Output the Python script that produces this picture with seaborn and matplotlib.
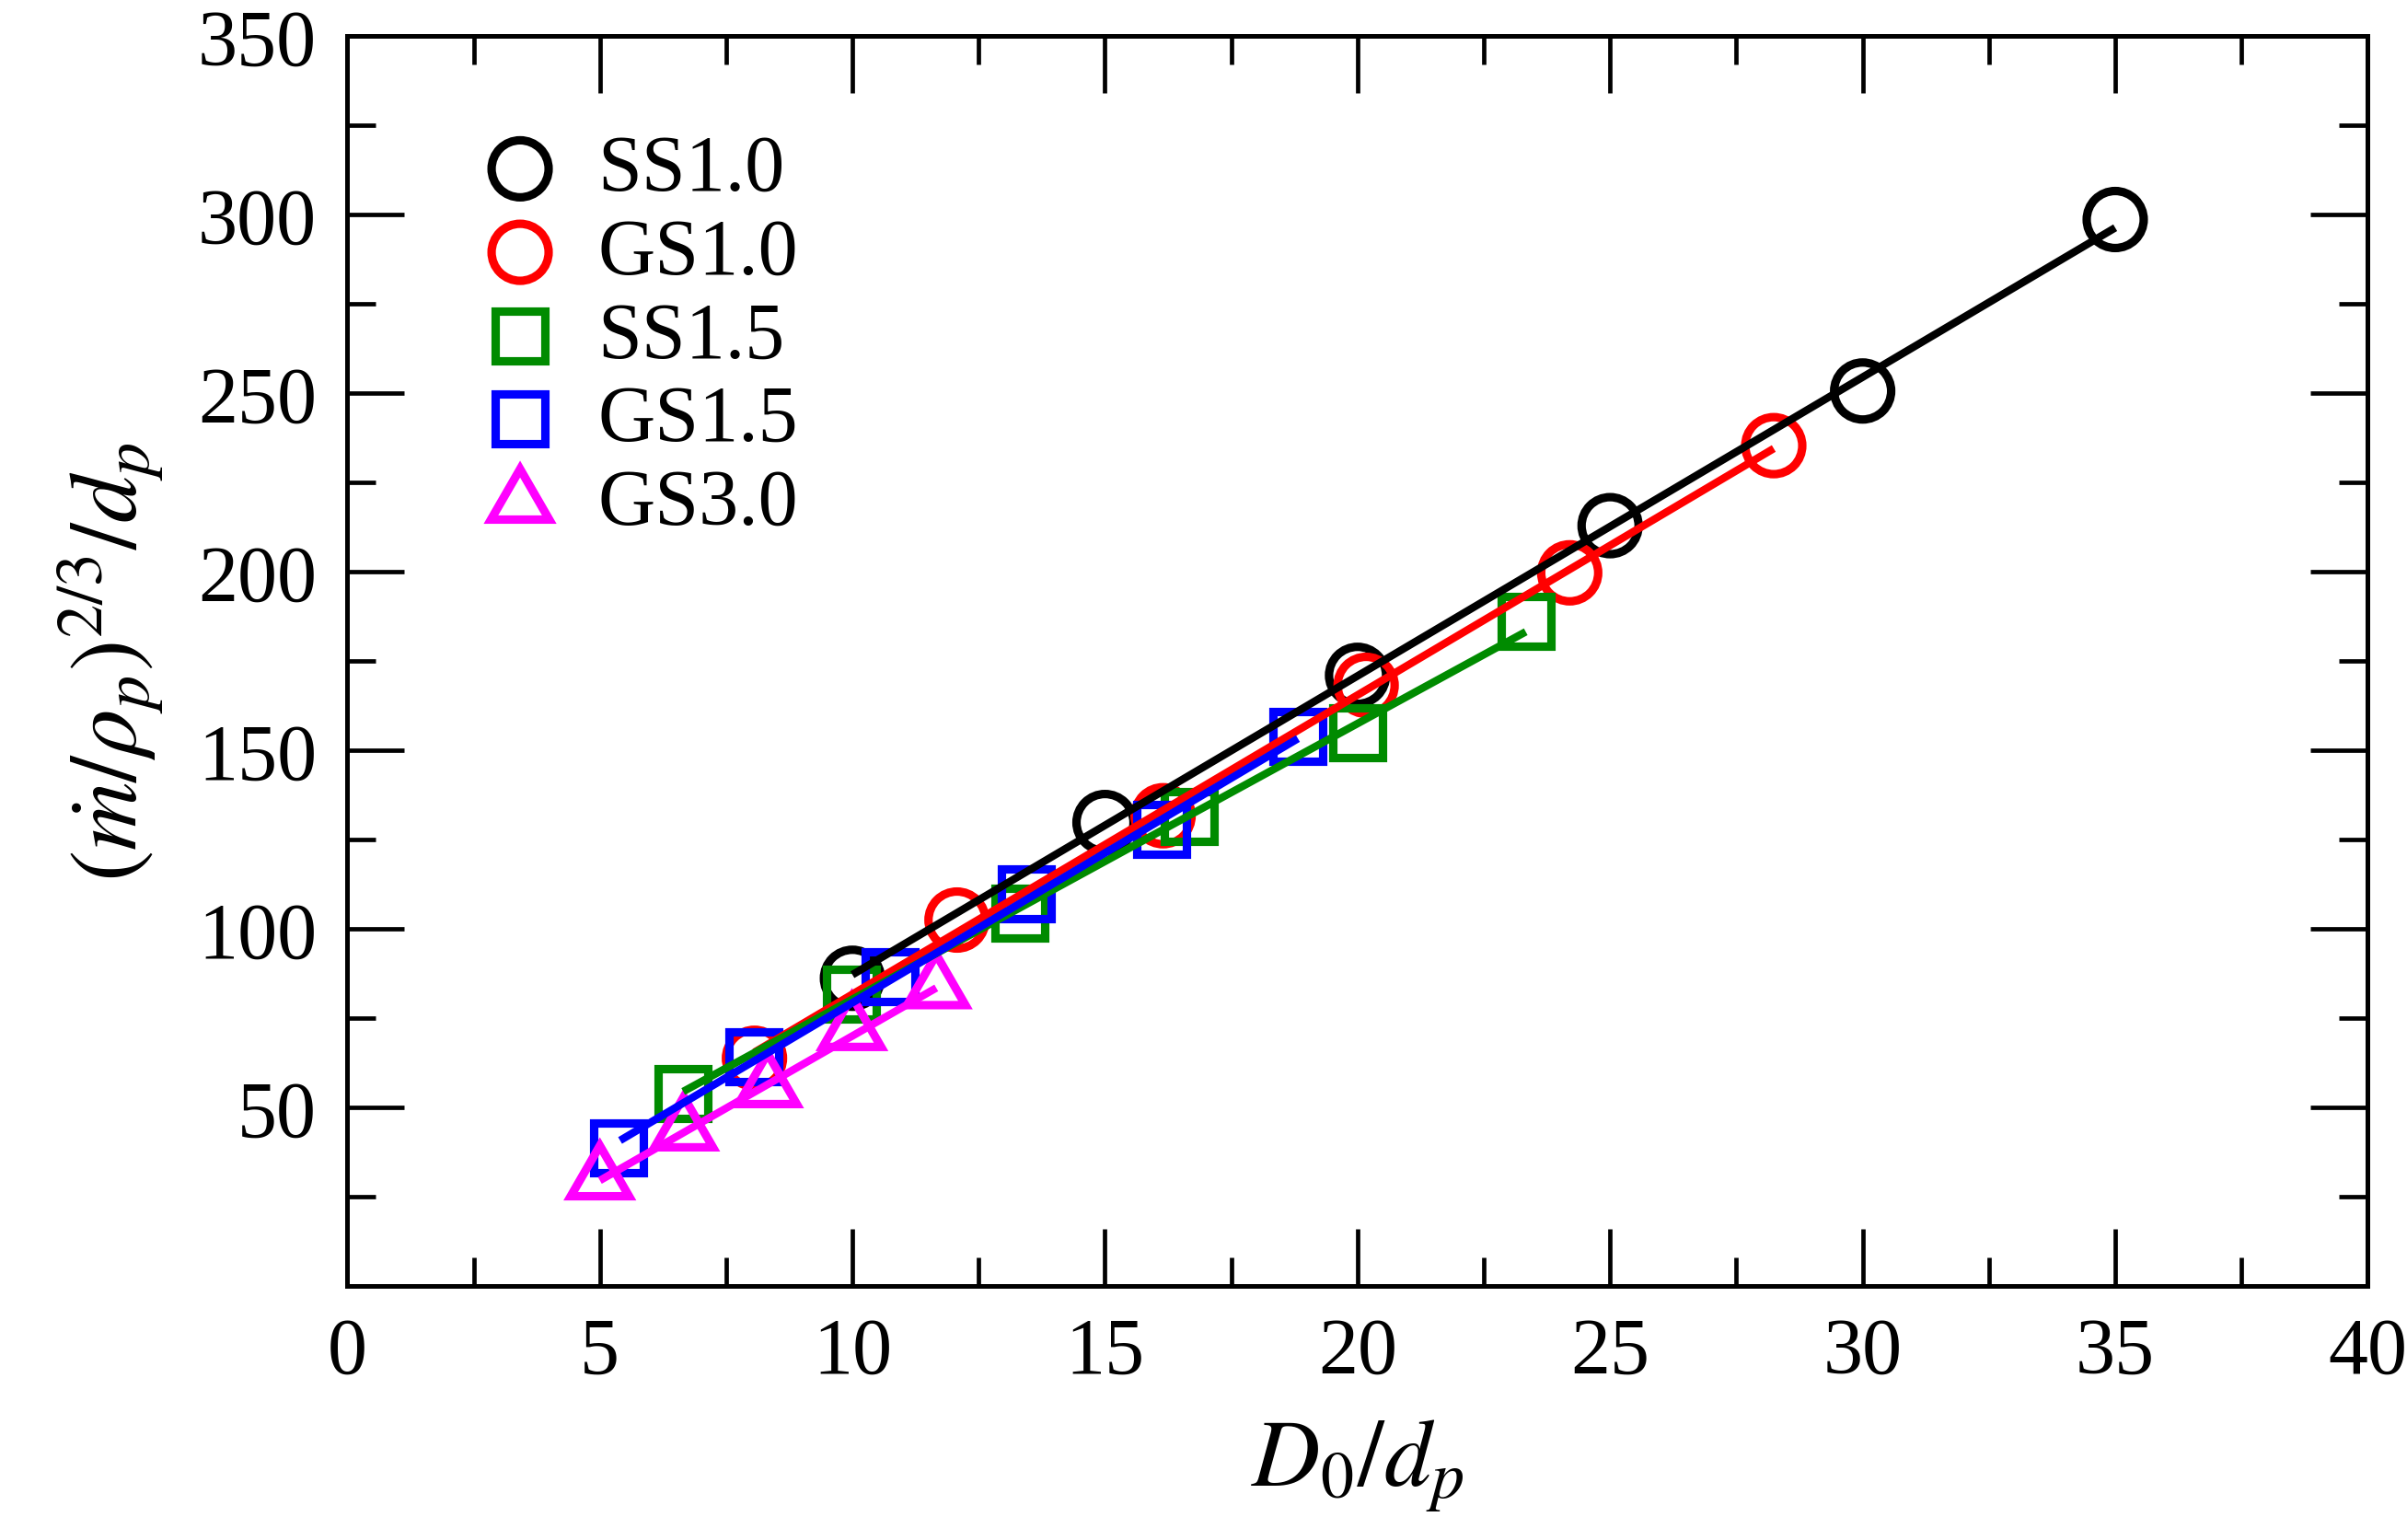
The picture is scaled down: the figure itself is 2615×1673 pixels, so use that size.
import numpy as np
import pandas as pd
import matplotlib
matplotlib.use("Agg")
import matplotlib.pyplot as plt
from matplotlib.path import Path
from matplotlib.markers import MarkerStyle
from matplotlib.ticker import MultipleLocator, FixedLocator
import seaborn as sns

# ---------------- data ----------------
series_names = ["SS1.0", "GS1.0", "SS1.5", "GS1.5", "GS3.0"]

ss10_x = [10.0, 15.0, 20.0, 25.0, 30.0, 35.0]
ss10_y = [86.2, 129.8, 171.0, 212.9, 250.6, 298.6]

gs10_x = [8.06, 12.07, 16.15, 20.17, 24.2, 28.24]
gs10_y = [63.8, 102.5, 131.7, 168.2, 199.7, 235.3]

ss15_x = [6.65, 9.98, 13.32, 16.66, 20.0, 23.33]
ss15_y = [53.9, 81.7, 104.5, 131.5, 155.0, 186.0]

gs15_x = [5.37, 8.05, 10.74, 13.44, 16.12, 18.82]
gs15_y = [38.7, 64.2, 86.7, 109.9, 128.0, 154.0]

gs30_x = [5.0, 6.66, 8.32, 9.99, 11.66]
gs30_y = [29.9, 43.6, 55.7, 71.7, 83.4]

# linear fit lines (end points)
fit_ss10_x = [10.0, 35.0];  fit_ss10_y = [87.2, 296.3]
fit_gs10_x = [8.06, 28.24]; fit_gs10_y = [65.5, 234.5]
fit_ss15_x = [6.65, 23.33]; fit_ss15_y = [54.5, 183.2]
fit_gs15_x = [5.40, 18.82]; fit_gs15_y = [40.8, 153.3]
fit_gs30_x = [5.0, 11.66];  fit_gs30_y = [29.6, 83.5]

x_ticks = [0, 5, 10, 15, 20, 25, 30, 35, 40]
y_ticks = [50, 100, 150, 200, 250, 300, 350]

# ---------------- style ----------------
sns.set_theme(style="ticks")
plt.rcParams["font.family"] = ["Liberation Serif", "DejaVu Serif"]
plt.rcParams["mathtext.fontset"] = "stix"
plt.rcParams["text.color"] = "black"
plt.rcParams["axes.labelcolor"] = "black"
plt.rcParams["axes.edgecolor"] = "black"
plt.rcParams["xtick.color"] = "black"
plt.rcParams["ytick.color"] = "black"

colors = ["#000000", "#ff0000", "#008b00", "#0000ff", "#ff00ff"]

tri_path = Path([(0, 1), (-0.8660254, -0.5), (0.8660254, -0.5), (0, 1)],
                [Path.MOVETO, Path.LINETO, Path.LINETO, Path.CLOSEPOLY])
tri_marker = MarkerStyle(tri_path, joinstyle="miter")
markers = ["o", "o", "s", "s", tri_marker]
sizes = [44.6 ** 2, 44.6 ** 2, 38.9 ** 2, 38.9 ** 2, 52.7 ** 2]

pts = [(ss10_x, ss10_y), (gs10_x, gs10_y), (ss15_x, ss15_y),
       (gs15_x, gs15_y), (gs30_x, gs30_y)]
fits = [(fit_ss10_x, fit_ss10_y), (fit_gs10_x, fit_gs10_y),
        (fit_ss15_x, fit_ss15_y), (fit_gs15_x, fit_gs15_y),
        (fit_gs30_x, fit_gs30_y)]

fig = plt.figure(figsize=(26.15, 16.74), dpi=100)
ax = fig.add_axes([0.1443, 0.1647, 0.8394, 0.8114])

handles = []
for name, (xs, ys), c, m, s in zip(series_names, pts, colors, markers, sizes):
    df = pd.DataFrame({"x": xs, "y": ys})
    sns.scatterplot(data=df, x="x", y="y", ax=ax, marker=m, s=s,
                    color=c, facecolor="none", edgecolor=c, linewidth=6.6,
                    label=name, legend=False, zorder=2)
    coll = ax.collections[-1]
    coll.set_joinstyle("miter")
    handles.append(coll)

for (fx, fy), c in zip(fits, colors):
    df = pd.DataFrame({"x": fx, "y": fy})
    sns.lineplot(data=df, x="x", y="y", ax=ax, color=c, linewidth=6.0,
                 legend=False, sort=False, estimator=None,
                 solid_capstyle="butt", zorder=3)

ax.set_xlim(0, 40)
ax.set_ylim(0, 350)
ax.xaxis.set_major_locator(FixedLocator(x_ticks))
ax.xaxis.set_minor_locator(MultipleLocator(2.5))
ax.yaxis.set_major_locator(FixedLocator(y_ticks))
ax.yaxis.set_minor_locator(MultipleLocator(25))

for sp in ax.spines.values():
    sp.set_visible(True)
    sp.set_linewidth(3.6)
    sp.set_color("black")

ax.tick_params(which="both", direction="in", top=True, right=True,
               width=3.4, color="black", labelcolor="black")
ax.tick_params(which="major", length=44.6, labelsize=62, pad=24)
ax.tick_params(which="minor", length=22)

ax.set_xlabel(r"$D_0/d_p$", fontsize=74, color="black")
ax.set_ylabel(r"$(\dot{m}/\rho_p)^{2/3}/d_p$", fontsize=74, color="black")
ax.xaxis.set_label_coords(0.5, -0.105)
ax.xaxis.label.set_va("top")
ax.yaxis.set_label_coords(-0.09, 0.5)

leg = ax.legend(handles=handles, labels=series_names, loc="upper left",
                bbox_to_anchor=(0.0659, 0.9216), frameon=False, fontsize=62,
                handlelength=1.0, handletextpad=0.48, borderpad=0,
                borderaxespad=0, labelspacing=0.13, scatterpoints=1)
for t in leg.get_texts():
    t.set_color("black")
for h in leg.legend_handles:
    try:
        h.set_joinstyle("miter")
    except Exception:
        pass

fig.savefig("out.png", dpi=100, facecolor="white")
